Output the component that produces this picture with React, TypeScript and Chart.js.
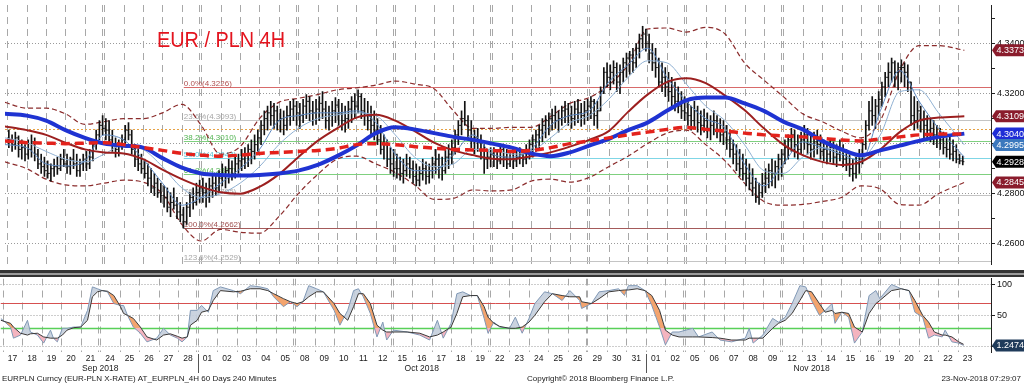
import React, { useEffect, useRef } from 'react';
import { Chart, registerables } from 'chart.js';

Chart.register(...registerables);

const FONT = "'Liberation Sans', Arial, sans-serif";
Chart.defaults.font.family = FONT;

// ---------- time axis (trading days from Mon 17 Sep 2018) ----------
const dayLabels = ['17','18','19','20','21','24','25','26','27','28',
  '01','02','03','04','05','08','09','10','11','12','15','16','17','18','19','22','23','24','25','26','29','30','31',
  '01','02','05','06','07','08','09','12','13','14','15','16','19','20','21','22','23'];
const monthLabels = ['Sep 2018', 'Oct 2018', 'Nov 2018'];
const monthStartDay = [0, 10, 33, 50];
const barsPerDay = 6;
const weekLength = 5;
const weekendGap = 0.1;
const xMin = -0.115;
const xMax = 50.705;

// ---------- 4H bars (EURPLN) ----------
const highs = [
  4.3054,4.3035,4.3046,4.3031,4.3015,4.2996, 4.3015,4.3035,4.3023,4.2977,4.2958,4.2946,
  4.2931,4.2919,4.2938,4.2946,4.2958,4.2977, 4.2958,4.2946,4.2977,4.2958,4.2938,4.2958,
  4.2969,4.2977,4.3015,4.3054,4.3092,4.3112, 4.3100,4.3092,4.3054,4.3023,4.3015,4.3035,
  4.3073,4.3084,4.3054,4.2996,4.2977,4.2958, 4.2938,4.2919,4.2900,4.2881,4.2862,4.2842,
  4.2831,4.2823,4.2804,4.2823,4.2785,4.2765, 4.2746,4.2765,4.2804,4.2823,4.2842,4.2854,
  4.2862,4.2842,4.2862,4.2881,4.2869,4.2892, 4.2919,4.2908,4.2938,4.2931,4.2946,4.2958,
  4.2977,4.2984,4.2996,4.3015,4.3035,4.3054, 4.3092,4.3131,4.3150,4.3169,4.3161,4.3150,
  4.3138,4.3131,4.3150,4.3169,4.3177,4.3169, 4.3161,4.3177,4.3196,4.3188,4.3169,4.3177,
  4.3188,4.3208,4.3169,4.3150,4.3169,4.3184, 4.3177,4.3161,4.3150,4.3169,4.3188,4.3200,
  4.3215,4.3200,4.3181,4.3169,4.3150,4.3131, 4.3100,4.3073,4.3035,4.3015,4.2984,4.2977,
  4.2958,4.2946,4.2938,4.2958,4.2946,4.2931, 4.2919,4.2908,4.2938,4.2927,4.2919,4.2946,
  4.2977,4.2958,4.2946,4.2977,4.2996,4.3015, 4.3054,4.3092,4.3131,4.3169,4.3112,4.3092,
  4.3054,4.3061,4.3035,4.2996,4.2977,4.2984, 4.2984,4.2977,4.2996,4.2984,4.2977,4.2969,
  4.2977,4.2969,4.2984,4.2977,4.2996,4.3015, 4.3035,4.3054,4.3073,4.3100,4.3112,4.3123,
  4.3138,4.3150,4.3131,4.3150,4.3169,4.3161, 4.3150,4.3169,4.3177,4.3161,4.3169,4.3177,
  4.3188,4.3177,4.3169,4.3227,4.3304,4.3323, 4.3315,4.3331,4.3323,4.3315,4.3342,4.3362,
  4.3369,4.3381,4.3400,4.3438,4.3469,4.3458, 4.3438,4.3400,4.3381,4.3342,4.3323,4.3304,
  4.3285,4.3265,4.3246,4.3227,4.3208,4.3188, 4.3169,4.3150,4.3169,4.3150,4.3131,4.3138,
  4.3123,4.3112,4.3131,4.3112,4.3100,4.3092, 4.3073,4.3054,4.3015,4.2996,4.2977,4.2958,
  4.2938,4.2919,4.2900,4.2862,4.2842,4.2881, 4.2900,4.2919,4.2938,4.2931,4.2958,4.2977,
  4.3015,4.3035,4.3061,4.3054,4.3035,4.3046, 4.3073,4.3061,4.3035,4.3046,4.3054,4.3035,
  4.3015,4.2996,4.3015,4.3007,4.2996,4.3015, 4.2996,4.2977,4.2958,4.2938,4.2946,4.2977,
  4.3015,4.3092,4.3169,4.3188,4.3177,4.3208, 4.3246,4.3285,4.3323,4.3342,4.3331,4.3323,
  4.3335,4.3323,4.3315,4.3246,4.3188,4.3169, 4.3150,4.3131,4.3112,4.3100,4.3092,4.3073,
  4.3061,4.3046,4.3023,4.3035,4.3015,4.2996, 4.2958,4.2950,
];
const lows = [
  4.2984,4.2969,4.2977,4.2946,4.2938,4.2931, 4.2938,4.2946,4.2931,4.2900,4.2881,4.2869,
  4.2862,4.2850,4.2869,4.2877,4.2892,4.2908, 4.2881,4.2877,4.2900,4.2869,4.2869,4.2892,
  4.2892,4.2900,4.2931,4.2977,4.3015,4.3035, 4.3015,4.2996,4.2969,4.2946,4.2950,4.2977,
  4.2996,4.3015,4.2958,4.2908,4.2892,4.2881, 4.2862,4.2831,4.2804,4.2792,4.2785,4.2765,
  4.2746,4.2727,4.2708,4.2738,4.2700,4.2688, 4.2662,4.2677,4.2708,4.2738,4.2754,4.2765,
  4.2765,4.2746,4.2765,4.2785,4.2792,4.2804, 4.2831,4.2823,4.2842,4.2854,4.2862,4.2881,
  4.2892,4.2900,4.2908,4.2919,4.2938,4.2958, 4.2996,4.3035,4.3054,4.3073,4.3061,4.3054,
  4.3046,4.3035,4.3054,4.3073,4.3092,4.3073, 4.3061,4.3084,4.3100,4.3092,4.3073,4.3077,
  4.3092,4.3100,4.3061,4.3054,4.3069,4.3084, 4.3073,4.3054,4.3046,4.3061,4.3084,4.3100,
  4.3123,4.3100,4.3073,4.3054,4.3035,4.3015, 4.2996,4.2958,4.2938,4.2908,4.2881,4.2869,
  4.2862,4.2854,4.2842,4.2869,4.2862,4.2842, 4.2831,4.2831,4.2854,4.2838,4.2842,4.2862,
  4.2881,4.2862,4.2854,4.2881,4.2900,4.2919, 4.2958,4.2996,4.3035,4.3073,4.3015,4.2984,
  4.2958,4.2969,4.2938,4.2881,4.2900,4.2908, 4.2908,4.2900,4.2919,4.2908,4.2900,4.2908,
  4.2900,4.2908,4.2919,4.2908,4.2919,4.2938, 4.2946,4.2969,4.2984,4.3007,4.3023,4.3035,
  4.3054,4.3061,4.3046,4.3073,4.3084,4.3073, 4.3061,4.3073,4.3084,4.3069,4.3077,4.3092,
  4.3100,4.3073,4.3061,4.3131,4.3200,4.3227, 4.3215,4.3238,4.3208,4.3200,4.3246,4.3265,
  4.3277,4.3285,4.3304,4.3342,4.3381,4.3369, 4.3323,4.3292,4.3265,4.3227,4.3208,4.3188,
  4.3169,4.3150,4.3131,4.3123,4.3100,4.3092, 4.3073,4.3054,4.3061,4.3046,4.3035,4.3046,
  4.3023,4.3015,4.3035,4.3023,4.3007,4.2996, 4.2977,4.2946,4.2919,4.2892,4.2869,4.2854,
  4.2831,4.2815,4.2792,4.2765,4.2757,4.2785, 4.2804,4.2823,4.2831,4.2823,4.2854,4.2869,
  4.2919,4.2938,4.2969,4.2946,4.2938,4.2958, 4.2977,4.2958,4.2938,4.2946,4.2958,4.2938,
  4.2931,4.2919,4.2927,4.2919,4.2908,4.2931, 4.2908,4.2892,4.2869,4.2850,4.2862,4.2881,
  4.2919,4.2977,4.3054,4.3073,4.3061,4.3112, 4.3150,4.3188,4.3227,4.3246,4.3227,4.3215,
  4.3246,4.3227,4.3208,4.3073,4.3054,4.3061, 4.3046,4.3023,4.3015,4.3007,4.2996,4.2984,
  4.2977,4.2958,4.2946,4.2938,4.2931,4.2923, 4.2919,4.2915,
];
const closes = [
  4.3015,4.2996,4.3023,4.2977,4.2984,4.2958, 4.2977,4.3007,4.2958,4.2919,4.2908,4.2892,
  4.2881,4.2900,4.2908,4.2900,4.2938,4.2919, 4.2908,4.2938,4.2919,4.2892,4.2919,4.2938,
  4.2919,4.2946,4.2996,4.3035,4.3073,4.3061, 4.3054,4.3015,4.2996,4.2977,4.2996,4.3015,
  4.3054,4.3035,4.2977,4.2938,4.2919,4.2900, 4.2881,4.2862,4.2823,4.2842,4.2804,4.2792,
  4.2785,4.2746,4.2765,4.2754,4.2727,4.2715, 4.2688,4.2746,4.2785,4.2765,4.2804,4.2823,
  4.2804,4.2785,4.2831,4.2842,4.2823,4.2862, 4.2869,4.2892,4.2900,4.2881,4.2919,4.2931,
  4.2938,4.2958,4.2977,4.2969,4.2996,4.3023, 4.3073,4.3100,4.3123,4.3112,4.3131,4.3092,
  4.3100,4.3073,4.3112,4.3138,4.3150,4.3123, 4.3112,4.3150,4.3169,4.3131,4.3123,4.3138,
  4.3161,4.3138,4.3092,4.3112,4.3131,4.3154, 4.3123,4.3092,4.3100,4.3138,4.3169,4.3150,
  4.3188,4.3131,4.3112,4.3092,4.3073,4.3054, 4.3015,4.2977,4.2996,4.2938,4.2919,4.2900,
  4.2900,4.2881,4.2892,4.2919,4.2900,4.2869, 4.2854,4.2881,4.2900,4.2869,4.2892,4.2919,
  4.2938,4.2908,4.2892,4.2946,4.2958,4.2984, 4.3035,4.3073,4.3100,4.3092,4.3054,4.3015,
  4.3023,4.3015,4.2977,4.2938,4.2946,4.2958, 4.2938,4.2931,4.2977,4.2946,4.2919,4.2938,
  4.2931,4.2946,4.2958,4.2938,4.2977,4.2996, 4.3015,4.3035,4.3054,4.3073,4.3092,4.3100,
  4.3112,4.3092,4.3100,4.3131,4.3138,4.3112, 4.3100,4.3138,4.3123,4.3112,4.3131,4.3150,
  4.3169,4.3112,4.3131,4.3208,4.3285,4.3265, 4.3285,4.3304,4.3246,4.3285,4.3323,4.3342,
  4.3354,4.3323,4.3381,4.3419,4.3438,4.3400, 4.3362,4.3323,4.3304,4.3246,4.3265,4.3227,
  4.3208,4.3188,4.3169,4.3150,4.3131,4.3123, 4.3112,4.3092,4.3131,4.3084,4.3073,4.3092,
  4.3061,4.3073,4.3092,4.3054,4.3035,4.3046, 4.3015,4.2977,4.2958,4.2919,4.2900,4.2881,
  4.2862,4.2842,4.2823,4.2785,4.2804,4.2842, 4.2862,4.2892,4.2881,4.2908,4.2938,4.2958,
  4.2984,4.3015,4.3035,4.2996,4.2977,4.3015, 4.3035,4.2996,4.2977,4.3007,4.2996,4.2969,
  4.2977,4.2958,4.2984,4.2946,4.2958,4.2977, 4.2938,4.2919,4.2900,4.2881,4.2919,4.2938,
  4.2996,4.3073,4.3131,4.3112,4.3150,4.3177, 4.3227,4.3265,4.3285,4.3323,4.3285,4.3304,
  4.3304,4.3285,4.3246,4.3112,4.3092,4.3131, 4.3092,4.3073,4.3054,4.3061,4.3035,4.3023,
  4.3015,4.2984,4.2977,4.2958,4.2969,4.2938, 4.2931,4.2928,
];

// ---------- overlays, sampled once per trading day ----------
const maDays = [-0.12, 1, 2, 3, 4, 5, 6, 7, 8, 9, 10, 11, 12, 13, 14, 15, 16, 17, 18, 19, 20, 21, 22, 23, 24,
  25, 26, 27, 28, 29, 30, 31, 32, 33, 34, 35, 36, 37, 38, 39, 40, 41, 42, 43, 44, 45, 46, 47, 48, 49.33];
const maBlue = [4.3119, 4.3112, 4.3092, 4.3054, 4.3023, 4.3000, 4.2992, 4.2984, 4.2942, 4.2904,
  4.2881, 4.2875, 4.2873, 4.2875, 4.2881, 4.2892, 4.2915, 4.2950, 4.2992, 4.3042,
  4.3065, 4.3057, 4.3042, 4.3027, 4.3015, 4.3000, 4.2984, 4.2961, 4.2950, 4.2965,
  4.2992, 4.3019, 4.3054, 4.3084, 4.3131, 4.3173, 4.3184, 4.3184, 4.3161, 4.3131,
  4.3088, 4.3057, 4.3011, 4.2977, 4.2954, 4.2973, 4.2992, 4.3011, 4.3027, 4.3040];
const maRedDashed = [4.3011, 4.3004, 4.3002, 4.3000, 4.3002, 4.3004, 4.2996, 4.2984, 4.2973, 4.2961,
  4.2954, 4.2950, 4.2954, 4.2961, 4.2965, 4.2969, 4.2973, 4.2981, 4.2996, 4.3000,
  4.2996, 4.2988, 4.2982, 4.2977, 4.2975, 4.2973, 4.2969, 4.2973, 4.2984, 4.3000,
  4.3011, 4.3023, 4.3035, 4.3046, 4.3057, 4.3065, 4.3057, 4.3050, 4.3042, 4.3035,
  4.3031, 4.3027, 4.3021, 4.3015, 4.3011, 4.3019, 4.3027, 4.3035, 4.3038, 4.3038];
const maDarkRed = [4.3069, 4.3054, 4.3035, 4.3004, 4.2977, 4.2965, 4.2961, 4.2938, 4.2896, 4.2858,
  4.2827, 4.2806, 4.2800, 4.2827, 4.2877, 4.2946, 4.3011, 4.3061, 4.3104, 4.3115,
  4.3092, 4.3050, 4.3004, 4.2973, 4.2954, 4.2940, 4.2938, 4.2950, 4.2965, 4.2988,
  4.3015, 4.3050, 4.3127, 4.3196, 4.3246, 4.3261, 4.3242, 4.3192, 4.3134, 4.3061,
  4.2996, 4.2954, 4.2927, 4.2915, 4.2927, 4.2977, 4.3046, 4.3092, 4.3104, 4.3109];
const maFast = [4.2996, 4.2984, 4.2919, 4.2911, 4.2931, 4.3035, 4.3015, 4.2938, 4.2842, 4.2754,
  4.2785, 4.2842, 4.2900, 4.2977, 4.3092, 4.3112, 4.3123, 4.3123, 4.3131, 4.3084,
  4.2958, 4.2892, 4.2892, 4.2958, 4.3035, 4.2958, 4.2946, 4.2977, 4.3073, 4.3112,
  4.3131, 4.3246, 4.3315, 4.3381, 4.3265, 4.3169, 4.3100, 4.3061, 4.2919, 4.2831,
  4.2919, 4.3007, 4.2984, 4.2958, 4.2931, 4.3131, 4.3292, 4.3169, 4.3061, 4.2946];
const maSlow = [4.3023, 4.3004, 4.2969, 4.2938, 4.2927, 4.2958, 4.2996, 4.2977, 4.2908, 4.2823,
  4.2785, 4.2800, 4.2842, 4.2908, 4.2996, 4.3061, 4.3100, 4.3115, 4.3123, 4.3112,
  4.3035, 4.2946, 4.2908, 4.2919, 4.2977, 4.2977, 4.2958, 4.2969, 4.3023, 4.3084,
  4.3112, 4.3177, 4.3265, 4.3331, 4.3323, 4.3238, 4.3150, 4.3092, 4.2996, 4.2892,
  4.2881, 4.2946, 4.2984, 4.2969, 4.2946, 4.3035, 4.3208, 4.3215, 4.3123, 4.2995];
const bbUpper = [4.3165, 4.3142, 4.3142, 4.3119, 4.3077, 4.3088, 4.3100, 4.3100, 4.3123, 4.3157,
  4.3073, 4.2958, 4.2988, 4.3100, 4.3165, 4.3181, 4.3196, 4.3215, 4.3223, 4.3234,
  4.3250, 4.3238, 4.3219, 4.3131, 4.3061, 4.3061, 4.3065, 4.3065, 4.3108, 4.3161,
  4.3184, 4.3234, 4.3315, 4.3458, 4.3462, 4.3446, 4.3465, 4.3438, 4.3323, 4.3254,
  4.3188, 4.3119, 4.3088, 4.3050, 4.3023, 4.3092, 4.3292, 4.3392, 4.3392, 4.3373];
const bbLower = [4.2927, 4.2900, 4.2858, 4.2835, 4.2831, 4.2842, 4.2854, 4.2846, 4.2800, 4.2677,
  4.2611, 4.2657, 4.2646, 4.2642, 4.2708, 4.2800, 4.2877, 4.2938, 4.2950, 4.2919,
  4.2885, 4.2835, 4.2777, 4.2781, 4.2815, 4.2811, 4.2815, 4.2850, 4.2858, 4.2846,
  4.2865, 4.2908, 4.2950, 4.3000, 4.3042, 4.3054, 4.2996, 4.2931, 4.2842, 4.2769,
  4.2754, 4.2757, 4.2769, 4.2785, 4.2831, 4.2819, 4.2757, 4.2754, 4.2800, 4.2845];

// ---------- Fibonacci retracement & levels ----------
const fibPct = ['0.0%', '23.6%', '38.2%', '50.0%', '61.8%', '76.4%', '100.0%', '123.6%'];
const fibLevels = [4.3226, 4.3093, 4.3010, 4.2944, 4.2877, 4.2795, 4.2662, 4.2529];
const fibLineColors = ['#d86a6a', '#c4c4c4', '#7fd07f', '#7fd6e6', '#7fd07f', '#c4c4c4', '#a45a5a', '#c4c4c4'];
const fibTextColors = ['#b05050', '#a6a6a6', '#52b452', '#58bfd0', '#52b452', '#a6a6a6', '#a05050', '#a6a6a6'];
const fibStartDay = 9.1;
const pivotLevel = 4.3060;

const priceTicks = [4.26, 4.27, 4.28, 4.29, 4.30, 4.31, 4.32, 4.33, 4.34, 4.35];
const mainTagValues = [4.3373, 4.3109, 4.3040, 4.2995, 4.2928, 4.2845];
const mainTagColors = ['#8a1c2c', '#8a1c2c', '#1f2ed6', '#3b78bd', '#000000', '#8a1c2c'];
const titleText = 'EUR / PLN 4H';

// ---------- stochastic panel ----------
const stochT = [
  -0.1,0.4,0.55,0.91,1.27,1.42,1.78,2.1,2.45,2.6,
  2.8,3.06,3.3,3.64,4.0,4.35,4.6,4.86,5.1,5.37,
  5.7,6.04,6.2,6.4,6.7,7.06,7.4,7.9,8.25,8.6,
  8.96,9.2,9.47,9.63,9.98,10.2,10.55,10.8,11.17,11.83,
  12.2,12.7,13.2,13.6,13.9,14.4,14.76,15.1,15.4,15.7,
  16.1,16.45,17.0,17.3,17.7,18.0,18.25,18.5,18.86,19.2,
  19.5,19.7,20.05,20.75,21.4,21.9,22.3,22.6,23.0,23.3,
  23.6,24.0,24.35,24.7,24.9,25.2,25.5,26.0,26.3,26.65,
  27.0,27.3,27.8,28.2,28.7,29.1,29.6,29.7,30.2,30.6,
  31.1,31.6,31.9,32.1,32.55,32.95,33.3,33.7,34.0,34.35,
  34.7,35.4,35.7,36.4,36.8,37.4,38.1,38.3,38.5,39.0,
  39.5,39.8,40.15,40.5,40.9,41.2,41.5,41.9,42.2,42.55,
  42.7,43.05,43.4,43.7,44.1,44.45,44.8,45.0,45.6,46.1,
  46.5,46.8,47.2,47.5,47.8,48.2,48.35,48.7,49.05,49.3];
const stochK = [
  45,31,13,18,42,23,18,5,26,13,
  7,29,29,31,31,58,96,93,90,88,
  69,66,66,50,31,21,7,13,29,18,
  13,7,15,58,58,66,55,90,96,90,
  85,98,96,93,80,64,72,64,72,98,
  93,88,58,34,58,90,93,80,53,15,
  39,10,26,23,18,10,42,13,37,85,
  88,82,82,45,21,39,31,29,47,21,
  45,69,88,85,74,90,74,61,69,88,
  90,93,82,98,98,90,66,31,2,23,
  23,29,15,23,10,7,13,29,5,18,
  45,39,47,69,98,96,74,50,58,69,
  37,55,47,5,23,82,90,77,100,93,
  90,55,47,13,18,15,26,7,5,1.25];
const stochD = [
  42,37,31,21,18,20,21,15,13,13,
  13,18,26,30,31,42,80,88,90,89,
  82,64,53,50,45,31,15,10,18,20,
  16,13,15,34,42,55,58,74,90,88,
  89,93,93,90,85,77,72,69,72,80,
  88,88,69,53,42,64,85,85,69,34,
  26,23,23,23,21,15,18,23,31,53,
  80,82,82,64,47,37,32,29,29,31,
  39,50,72,85,82,80,80,72,69,77,
  88,90,91,91,93,90,82,58,26,18,
  15,15,15,14,13,10,10,13,13,13,
  29,37,42,53,74,90,88,69,55,58,
  53,55,53,31,23,53,69,74,90,93,
  90,74,50,39,23,18,18,15,7,3];
const stochTicks = [0, 50, 100];
const stochLevels = [70, 30];
const stochLevelColors = ['#d65050', '#58d058'];
const stochTagValue = 1.2474;

const footerLeft = 'EURPLN Curncy (EUR-PLN X-RATE) AT_EURPLN_4H 60 Days 240 Minutes';
const footerCenter = 'Copyright\u00A9 2018 Bloomberg Finance L.P.';
const footerRight = '23-Nov-2018 07:29:07';

// ---------- drawing helpers ----------
function drawDayGrid(ctx: CanvasRenderingContext2D, xs: any, top: number, bottom: number) {
  ctx.save();
  ctx.strokeStyle = '#a8a8a8';
  ctx.lineWidth = 1;
  ctx.setLineDash([7, 5]);
  const line = (v: number) => {
    const px = Math.round(xs.getPixelForValue(v)) + 0.5;
    ctx.beginPath();
    ctx.moveTo(px, top);
    ctx.lineTo(px, bottom);
    ctx.stroke();
  };
  for (let d = 0; d < dayLabels.length; d++) {
    line(d);
    if (d > 0 && d % weekLength === 0) line(d - weekendGap);
  }
  ctx.restore();
}

function drawTag(ctx: CanvasRenderingContext2D, x0: number, yc: number, text: string, color: string) {
  ctx.save();
  ctx.fillStyle = color;
  ctx.beginPath();
  ctx.moveTo(x0, yc);
  ctx.lineTo(x0 + 4, yc - 6);
  ctx.lineTo(x0 + 45, yc - 6);
  ctx.lineTo(x0 + 45, yc + 6);
  ctx.lineTo(x0 + 4, yc + 6);
  ctx.closePath();
  ctx.fill();
  ctx.fillStyle = '#ffffff';
  ctx.font = `9px ${FONT}`;
  ctx.textAlign = 'left';
  ctx.textBaseline = 'middle';
  ctx.fillText(text, x0 + 4.5, yc + 0.5);
  ctx.restore();
}

const isMajor = (v: number) => Math.abs(Math.round(v * 100)) % 2 === 0;

const mainDecor = {
  id: 'mainDecor',
  beforeDatasetsDraw(chart: any) {
    const { ctx, chartArea: a, scales } = chart;
    const xs = scales.x;
    const ys = scales.y;
    ctx.save();
    ctx.beginPath();
    ctx.rect(a.left, a.top, a.right - a.left, a.bottom - a.top);
    ctx.clip();
    drawDayGrid(ctx, xs, a.top, a.bottom);
    ctx.lineWidth = 1;
    ctx.setLineDash([2, 2]);
    ctx.strokeStyle = '#e6a245';
    const py = Math.round(ys.getPixelForValue(pivotLevel)) + 0.5;
    ctx.beginPath();
    ctx.moveTo(a.left, py);
    ctx.lineTo(a.right, py);
    ctx.stroke();
    ctx.setLineDash([]);
    const fx = xs.getPixelForValue(fibStartDay);
    ctx.font = `8px ${FONT}`;
    ctx.textAlign = 'left';
    ctx.textBaseline = 'alphabetic';
    fibLevels.forEach((lv, i) => {
      const y = Math.round(ys.getPixelForValue(lv)) + 0.5;
      ctx.strokeStyle = fibLineColors[i];
      ctx.beginPath();
      ctx.moveTo(fx, y);
      ctx.lineTo(a.right, y);
      ctx.stroke();
      ctx.fillStyle = fibTextColors[i];
      ctx.fillText(`${fibPct[i]}(${lv.toFixed(4)})`, fx, y - 1.5);
    });
    ctx.restore();
  },
  afterDraw(chart: any) {
    const { ctx, chartArea: a, scales } = chart;
    const ys = scales.y;
    ctx.save();
    ctx.font = `22px ${FONT}`;
    ctx.fillStyle = '#e3141e';
    ctx.textAlign = 'left';
    ctx.textBaseline = 'alphabetic';
    const w = ctx.measureText(titleText).width;
    ctx.translate(157, 47);
    ctx.scale(128 / w, 1);
    ctx.fillText(titleText, 0, 0);
    ctx.restore();
    mainTagValues.forEach((v, i) => drawTag(ctx, a.right + 1, ys.getPixelForValue(v), v.toFixed(4), mainTagColors[i]));
  },
};

const lowerDecor = {
  id: 'lowerDecor',
  beforeDatasetsDraw(chart: any) {
    const { ctx, chartArea: a, scales } = chart;
    const ys = scales.y;
    ctx.save();
    ctx.beginPath();
    ctx.rect(a.left, a.top, a.right - a.left, a.bottom - a.top);
    ctx.clip();
    drawDayGrid(ctx, scales.x, a.top, a.bottom);
    stochLevels.forEach((lv, i) => {
      const y = Math.round(ys.getPixelForValue(lv)) + 0.5;
      ctx.strokeStyle = stochLevelColors[i];
      ctx.lineWidth = i === 1 ? 1.5 : 1;
      ctx.beginPath();
      ctx.moveTo(a.left, y);
      ctx.lineTo(a.right, y);
      ctx.stroke();
    });
    ctx.restore();
  },
  afterDraw(chart: any) {
    const { ctx, chartArea: a, scales } = chart;
    const xs = scales.x;
    const ys = scales.y;
    drawTag(ctx, a.right + 1, ys.getPixelForValue(stochTagValue), stochTagValue.toFixed(4), '#1f3b5a');
    ctx.save();
    ctx.fillStyle = '#1a1a1a';
    ctx.font = `8.5px ${FONT}`;
    ctx.textAlign = 'center';
    ctx.textBaseline = 'middle';
    dayLabels.forEach((lab, i) => ctx.fillText(lab, xs.getPixelForValue(i + 0.5), a.bottom + 7));
    monthLabels.forEach((lab, k) => {
      const c = (monthStartDay[k] + monthStartDay[k + 1]) / 2;
      ctx.fillText(lab, xs.getPixelForValue(c), a.bottom + 17);
    });
    ctx.strokeStyle = '#555';
    ctx.lineWidth = 1;
    for (let k = 1; k < monthLabels.length; k++) {
      const px = Math.round(xs.getPixelForValue(monthStartDay[k])) + 0.5;
      ctx.beginPath();
      ctx.moveTo(px, a.bottom + 2);
      ctx.lineTo(px, a.bottom + 21);
      ctx.stroke();
    }
    ctx.font = `8px ${FONT}`;
    ctx.textAlign = 'left';
    ctx.fillText(footerLeft, 2, a.bottom + 27);
    ctx.fillText(footerCenter, 527, a.bottom + 27);
    ctx.textAlign = 'right';
    ctx.fillText(footerRight, 1021, a.bottom + 27);
    ctx.restore();
  },
};

function lineSet(values: number[], color: string, width: number, order: number, dash: number[] = []) {
  return {
    type: 'line',
    data: maDays.map((d, i) => ({ x: d, y: values[i] })),
    borderColor: color,
    borderWidth: width,
    borderDash: dash,
    pointRadius: 0,
    cubicInterpolationMode: 'monotone',
    fill: false,
    order,
  };
}

function tickSet(points: any[], rotation: number) {
  return {
    type: 'line',
    data: points,
    showLine: false,
    pointStyle: 'dash',
    pointRadius: 1.6,
    pointRotation: rotation,
    pointBorderWidth: 1,
    pointBorderColor: '#1a1a1a',
    pointBackgroundColor: '#1a1a1a',
    fill: false,
    order: 5,
  };
}

function mainConfig(): any {
  const tx = (i: number) => (i + 0.5) / barsPerDay;
  const wicks = highs.map((h, i) => ({ x: tx(i), y: [lows[i], h] }));
  const closeTicks = closes.map((c, i) => ({ x: tx(i), y: c }));
  const openTicks = closes.map((c, i) => ({ x: tx(i), y: i > 0 ? closes[i - 1] : c }));
  return {
    type: 'line',
    data: {
      datasets: [
        lineSet(bbUpper, '#8b2c2c', 1.2, 7, [5, 3]),
        lineSet(bbLower, '#8b2c2c', 1.2, 7, [5, 3]),
        { type: 'bar', data: wicks, backgroundColor: '#111', barThickness: 1, maxBarThickness: 1, grouped: false, order: 6 },
        tickSet(openTicks, 180),
        tickSet(closeTicks, 0),
        lineSet(maSlow, '#8fb0d2', 1, 4),
        lineSet(maFast, '#5d88c0', 1, 3),
        lineSet(maDarkRed, '#9c1f1f', 2, 2),
        lineSet(maBlue, '#1f33d2', 4, 1),
        lineSet(maRedDashed, '#e3221c', 3.5, 0, [9, 5]),
      ],
    },
    options: {
      animation: false,
      responsive: false,
      layout: { padding: 0 },
      plugins: { legend: { display: false }, tooltip: { enabled: false } },
      scales: {
        x: { type: 'linear', min: xMin, max: xMax, display: false, offset: false },
        y: {
          type: 'linear',
          position: 'right',
          min: 4.2519,
          max: 4.3554,
          afterBuildTicks: (s: any) => { s.ticks = priceTicks.map((v) => ({ value: v })); },
          afterFit: (s: any) => { s.width = 33; s.paddingTop = 0; s.paddingBottom = 0; },
          ticks: {
            autoSkip: false,
            padding: 2,
            color: '#111',
            font: { family: FONT, size: 9 },
            callback: (v: number) => (isMajor(v) ? Number(v).toFixed(4) : ''),
          },
          grid: {
            color: (c: any) => (c.tick && isMajor(c.tick.value) ? '#9a9a9a' : 'rgba(0,0,0,0)'),
            tickColor: '#222',
            tickLength: 4,
          },
          border: { display: true, color: '#222', width: 1, dash: [1, 2] },
        },
      },
    },
    plugins: [mainDecor],
  };
}

function lowerConfig(): any {
  return {
    type: 'line',
    data: {
      datasets: [
        {
          data: stochT.map((t, i) => ({ x: t, y: stochK[i] })),
          borderColor: '#8199b6',
          borderWidth: 1,
          pointRadius: 0,
          fill: { target: 1, above: 'rgba(196,206,220,0.9)', below: '#f3a46e' },
          order: 1,
        },
        {
          data: stochT.map((t, i) => ({ x: t, y: stochD[i] })),
          borderColor: '#3a3a3a',
          borderWidth: 1,
          pointRadius: 0,
          fill: false,
          order: 0,
        },
      ],
    },
    options: {
      animation: false,
      responsive: false,
      layout: { padding: { left: 0, right: 0, top: 0, bottom: 33 } },
      plugins: { legend: { display: false }, tooltip: { enabled: false } },
      scales: {
        x: { type: 'linear', min: xMin, max: xMax, display: false, offset: false },
        y: {
          type: 'linear',
          position: 'right',
          min: -9.4,
          max: 109.6,
          afterBuildTicks: (s: any) => { s.ticks = stochTicks.map((v) => ({ value: v })); },
          afterFit: (s: any) => { s.width = 33; s.paddingTop = 0; s.paddingBottom = 0; },
          ticks: {
            autoSkip: false,
            padding: 2,
            color: '#111',
            font: { family: FONT, size: 9 },
            callback: (v: number) => (v === 0 ? '' : String(v)),
          },
          grid: { color: '#9a9a9a', tickColor: '#222', tickLength: 4 },
          border: { display: true, color: '#222', width: 1, dash: [1, 2] },
        },
      },
    },
    plugins: [lowerDecor],
  };
}

function applyStochFill(chart: any) {
  const y30 = chart.scales.y.getPixelForValue(stochLevels[1]);
  const h = chart.height;
  const g = chart.ctx.createLinearGradient(0, 0, 0, h);
  const s = Math.min(Math.max(y30 / h, 0), 0.999);
  g.addColorStop(0, '#f3a46e');
  g.addColorStop(s, '#f3a46e');
  g.addColorStop(s + 0.001, '#f4b4bf');
  g.addColorStop(1, '#f4b4bf');
  chart.data.datasets[0].fill = { target: 1, above: 'rgba(196,206,220,0.9)', below: g };
  chart.update('none');
}

export default function App() {
  const mainRef = useRef<HTMLCanvasElement>(null);
  const lowRef = useRef<HTMLCanvasElement>(null);
  useEffect(() => {
    const main = new Chart(mainRef.current as HTMLCanvasElement, mainConfig());
    const low = new Chart(lowRef.current as HTMLCanvasElement, lowerConfig());
    applyStochFill(low);
    return () => {
      main.destroy();
      low.destroy();
    };
  }, []);
  return (
    <div style={{ position: 'fixed', left: 0, top: 0, width: 1024, height: 385, background: '#fff', overflow: 'hidden' }}>
      <canvas ref={mainRef} width={1024} height={269} style={{ position: 'absolute', left: 0, top: 0 }} />
      <div style={{ position: 'absolute', left: 0, top: 270, width: 1024, height: 3, background: '#333' }} />
      <div style={{ position: 'absolute', left: 0, top: 273, width: 1024, height: 2, background: '#9a9a9a' }} />
      <div style={{ position: 'absolute', left: 0, top: 275, width: 1024, height: 2, background: '#333' }} />
      <canvas ref={lowRef} width={1024} height={107} style={{ position: 'absolute', left: 0, top: 278 }} />
    </div>
  );
}
